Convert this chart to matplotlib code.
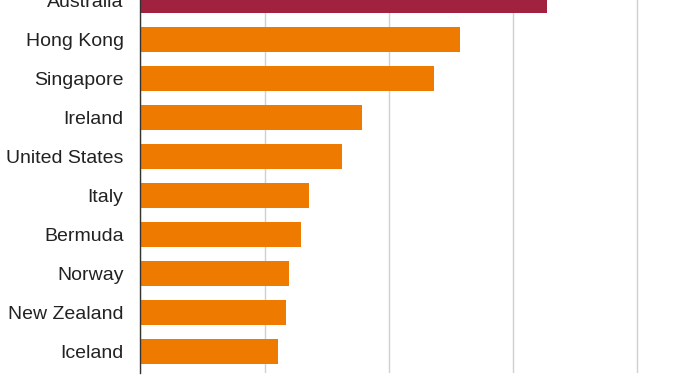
import matplotlib.pyplot as plt

countries = ['Australia', 'Hong Kong', 'Singapore', 'Ireland', 'United States',
             'Italy', 'Bermuda', 'Norway', 'New Zealand', 'Iceland']
values = [327, 257, 236, 178, 162, 136, 129, 120, 117, 111]
colors = ['#A1223F'] + ['#EE7A00'] * 9

plt.rcParams['font.family'] = ['Liberation Sans', 'DejaVu Sans']

fig = plt.figure(figsize=(6.78, 3.81), dpi=100)
ax = fig.add_axes([0.2069, 0.0218, 0.77, 0.9782])

pos = range(len(countries))
ax.barh(pos, values, height=0.64, color=colors, zorder=2)
ax.set_yticks(list(pos))
ax.set_yticklabels(countries, fontsize=14, color='#222222')
ax.set_ylim(9.536, -0.02)
ax.set_xlim(0, 420)
ax.set_xticks([0, 100, 200, 300, 400])
ax.xaxis.grid(True, color='#d0d0d0', linewidth=1, zorder=0)
ax.tick_params(axis='y', length=0, pad=12)
ax.tick_params(axis='x', length=0, labelbottom=False)
for side in ['top', 'right', 'bottom']:
    ax.spines[side].set_visible(False)
ax.spines['left'].set_color('#333333')
ax.spines['left'].set_linewidth(1)

fig.savefig('out.png', dpi=100)
